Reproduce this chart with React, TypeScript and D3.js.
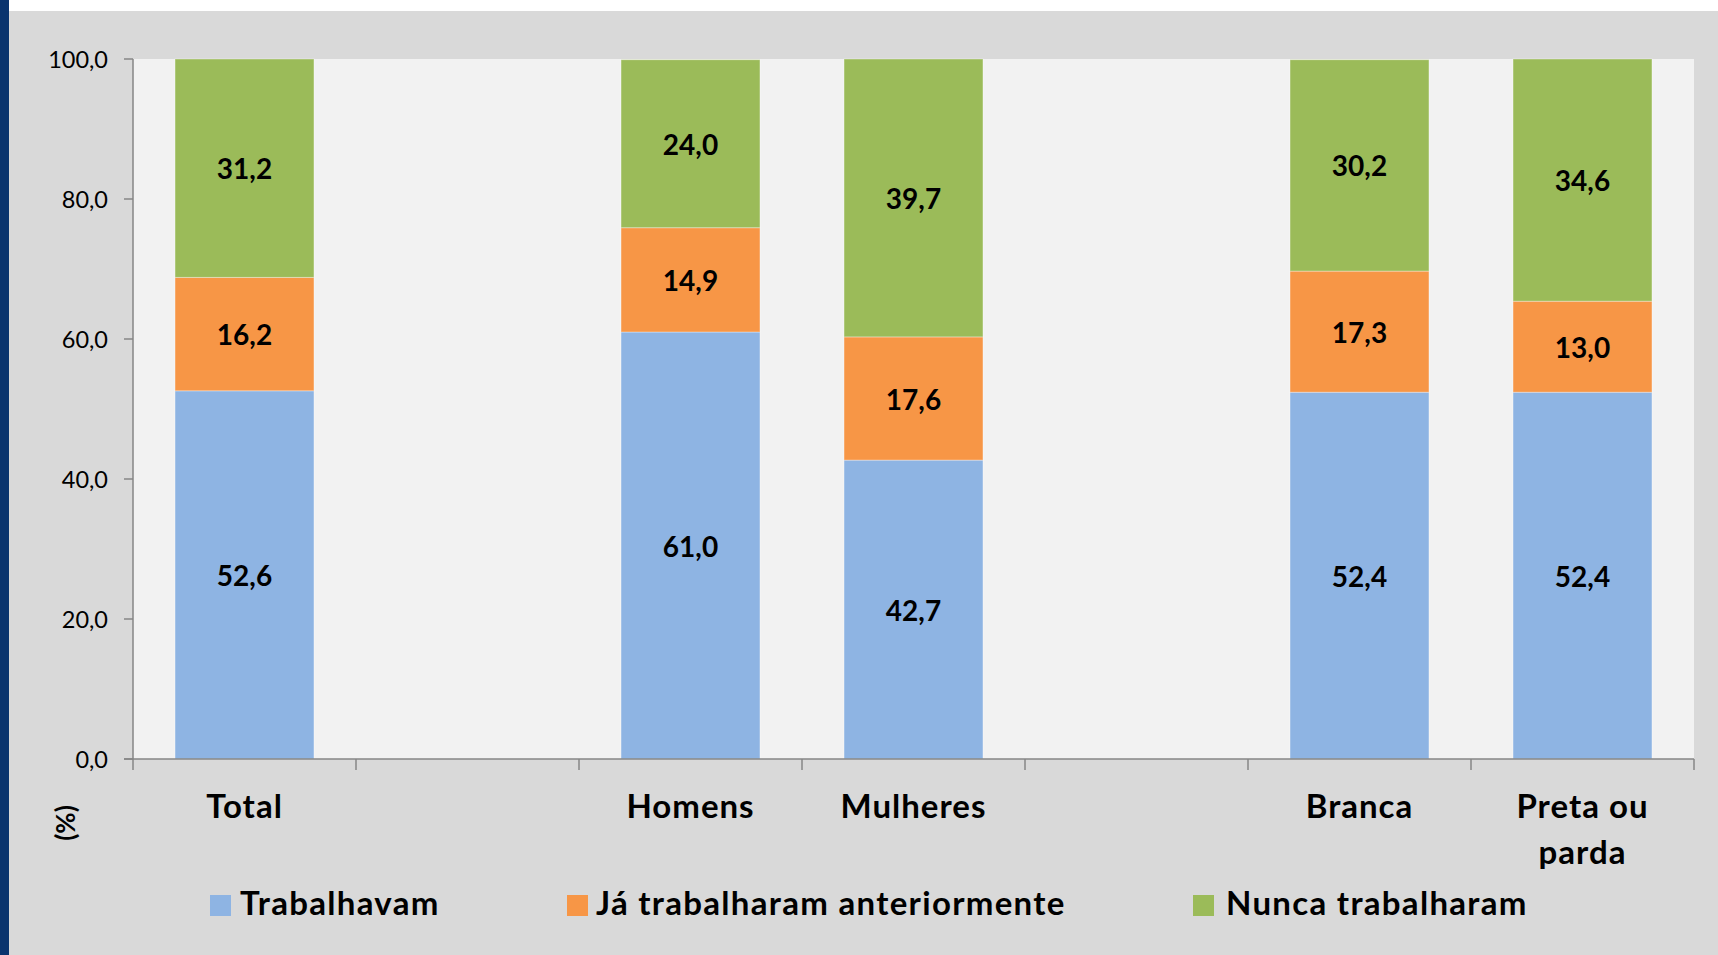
import React from "react";
import * as d3 from "d3";

const categories = ["Total", "", "Homens", "Mulheres", "", "Branca", "Preta ou parda"];
const trabalhavam = [52.6, null, 61.0, 42.7, null, 52.4, 52.4];
const jaTrabalharam = [16.2, null, 14.9, 17.6, null, 17.3, 13.0];
const nuncaTrabalharam = [31.2, null, 24.0, 39.7, null, 30.2, 34.6];
const seriesNames = ["Trabalhavam", "Já trabalharam anteriormente", "Nunca trabalharam"];
const seriesColors = ["#8EB4E3", "#F79646", "#9BBB59"];
const yTicks = [0, 20, 40, 60, 80, 100];

const W = 1718;
const H = 955;
const plot = { left: 133, right: 1694, top: 59, bottom: 759 };
const FONT = "Lato, 'Open Sans', sans-serif";

const fmt = (v: number) => v.toFixed(1).replace(".", ",");

function wrapLabel(s: string): string[] {
  if (s.length <= 10) return [s];
  const i = s.lastIndexOf(" ");
  return [s.slice(0, i), s.slice(i + 1)];
}

export default function App() {
  const x = d3
    .scaleBand<number>()
    .domain(categories.map((_, i) => i))
    .range([plot.left, plot.right])
    .paddingInner(0.377)
    .paddingOuter(0.377 / 2);
  const y = d3.scaleLinear().domain([0, 100]).range([plot.bottom, plot.top]);
  const step = x.step();

  const series = [trabalhavam, jaTrabalharam, nuncaTrabalharam];
  const rows = categories.map((c, i) => ({
    i,
    c,
    s0: series[0][i],
    s1: series[1][i],
    s2: series[2][i],
  }));
  const stacked = d3
    .stack<any>()
    .keys(["s0", "s1", "s2"])
    .value((d, k) => (d[k] == null ? 0 : d[k]))(rows);

  const legendItems = [
    { sq: 210, tx: 240 },
    { sq: 567, tx: 596 },
    { sq: 1193, tx: 1226 },
  ];

  return (
    <div style={{ position: "fixed", left: 0, top: 0 }}>
      <svg width={W} height={H} style={{ display: "block" }}>
        <rect x={0} y={0} width={W} height={H} fill="#ffffff" />
        <rect x={9} y={11} width={W - 9} height={H - 11} fill="#D9D9D9" />
        <rect x={0} y={0} width={9} height={H} fill="#0A346E" />
        <rect
          x={plot.left}
          y={plot.top}
          width={plot.right - plot.left}
          height={plot.bottom - plot.top}
          fill="#F2F2F2"
        />
        {stacked.map((layer, si) => (
          <g key={si}>
            {layer.map((d, ci) => {
              const v = series[si][ci];
              if (v == null) return null;
              const x0 = x(ci) as number;
              const y0 = y(d[1]);
              const y1 = y(d[0]);
              return (
                <g key={ci}>
                  <rect
                    x={x0}
                    y={y0}
                    width={x.bandwidth()}
                    height={y1 - y0}
                    fill={seriesColors[si]}
                    stroke="rgba(255,255,255,0.35)"
                    strokeWidth={1}
                  />
                  <text
                    x={x0 + x.bandwidth() / 2}
                    y={(y0 + y1) / 2}
                    textAnchor="middle"
                    dominantBaseline="central"
                    fontFamily={FONT}
                    fontWeight="bold"
                    fontSize={28}
                    fill="#000"
                  >
                    {fmt(v)}
                  </text>
                </g>
              );
            })}
          </g>
        ))}
        {/* axes */}
        <line x1={plot.left} x2={plot.left} y1={plot.top} y2={plot.bottom} stroke="#868686" strokeWidth={1.5} />
        <line x1={plot.left - 9} x2={plot.right} y1={plot.bottom} y2={plot.bottom} stroke="#868686" strokeWidth={1.5} />
        {yTicks.map((t) => (
          <g key={t}>
            <line x1={plot.left - 9} x2={plot.left} y1={y(t)} y2={y(t)} stroke="#868686" strokeWidth={1.5} />
            <text
              x={108}
              y={y(t)}
              textAnchor="end"
              dominantBaseline="central"
              fontFamily={FONT}
              fontSize={23.5}
              fill="#000"
            >
              {fmt(t)}
            </text>
          </g>
        ))}
        {d3.range(categories.length + 1).map((k) => (
          <line
            key={k}
            x1={plot.left + k * step}
            x2={plot.left + k * step}
            y1={plot.bottom}
            y2={plot.bottom + 11}
            stroke="#868686"
            strokeWidth={1.5}
          />
        ))}
        {categories.map((c, i) =>
          wrapLabel(c).map((line, li) => (
            <text
              key={i + "-" + li}
              x={(x(i) as number) + x.bandwidth() / 2}
              y={818 + li * 46}
              textAnchor="middle"
              fontFamily={FONT}
              fontWeight="bold"
              fontSize={33}
              letterSpacing={1}
              fill="#000"
            >
              {line}
            </text>
          ))
        )}
        <text
          transform="translate(65,823) rotate(-90)"
          textAnchor="middle"
          dominantBaseline="central"
          fontFamily={FONT}
          fontWeight="bold"
          fontSize={26}
          fill="#000"
        >
          (%)
        </text>
        {seriesNames.map((n, si) => (
          <g key={n}>
            <rect x={legendItems[si].sq} y={895} width={21} height={21} fill={seriesColors[si]} />
            <text
              x={legendItems[si].tx}
              y={915}
              fontFamily={FONT}
              fontWeight="bold"
              fontSize={33}
              letterSpacing={1.3}
              fill="#000"
            >
              {n}
            </text>
          </g>
        ))}
      </svg>
    </div>
  );
}
